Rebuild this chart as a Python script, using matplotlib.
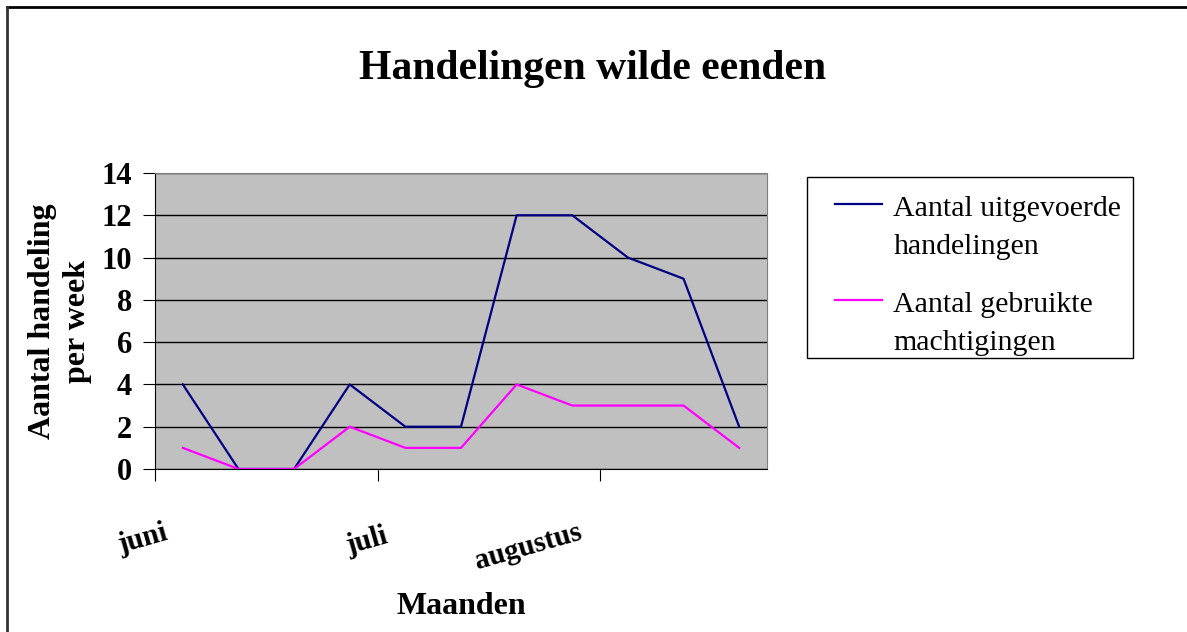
import numpy as np
import matplotlib
matplotlib.use("Agg")
import matplotlib.pyplot as plt
from matplotlib.lines import Line2D
from matplotlib.patches import Rectangle

plt.rcParams['font.family'] = ['Liberation Serif', 'DejaVu Serif']

# weekly counts, juni .. augustus
weeks = np.arange(11)
uitgevoerd = [4, 0, 0, 4, 2, 2, 12, 12, 10, 9, 2]
machtigingen = [1, 0, 0, 2, 1, 1, 4, 3, 3, 3, 1]
month_labels = ['juni', 'juli', 'augustus']
month_starts = [-0.5, 3.5, 7.5]
y_ticks = [0, 2, 4, 6, 8, 10, 12, 14]

# where Excel put the rotated month labels (category units / axes fraction)
label_x = [-0.72, 3.31, 6.21]
label_y = [-0.236, -0.243, -0.264]

W, H = 1187, 632
fig = plt.figure(figsize=(W / 100, H / 100), dpi=100)
ax = fig.add_axes([155 / W, 1 - 469 / H, 612 / W, 296 / H])

ax.set_facecolor('#c0c0c0')
ax.plot(weeks, uitgevoerd, color='#000080', lw=1.6, label='Aantal uitgevoerde\nhandelingen')
ax.plot(weeks, machtigingen, color='#ff00ff', lw=1.6, label='Aantal gebruikte\nmachtigingen')

ax.set_xlim(-0.5, 10.5)
ax.set_ylim(0, 14)
ax.set_yticks(y_ticks)
ax.yaxis.grid(True, color='black', lw=1)
ax.set_axisbelow(True)
for lbl in ax.get_yticklabels():
    lbl.set_fontweight('bold')
ax.tick_params(axis='y', labelsize=22, length=8.5, direction='out', pad=8)

ax.set_xticks(month_starts)
ax.set_xticklabels([])
ax.tick_params(axis='x', length=8.5, direction='out')
for x, y, name in zip(label_x, label_y, month_labels):
    ax.text(x, y, name, transform=ax.get_xaxis_transform(), rotation=16,
            rotation_mode='anchor', ha='center', va='center',
            fontsize=21, fontweight='bold')

for side in ['top', 'right']:
    ax.spines[side].set_color('#808080')
ax.spines['left'].set_color('black')
ax.spines['bottom'].set_color('black')

fig.text(461 / W, 1 - 606 / H, 'Maanden', ha='center', va='center',
         fontsize=23, fontweight='bold')
fig.text(60 / W, 1 - 321 / H, 'Aantal handeling\nper week', ha='center', va='center',
         rotation=90, fontsize=23, fontweight='bold', linespacing=1.3)
fig.text(593 / W, 1 - 69 / H, 'Handelingen wilde eenden', ha='center', va='center',
         fontsize=30, fontweight='bold')

leg = fig.legend(loc='upper left', bbox_to_anchor=(807 / W, 1 - 177 / H),
                 fontsize=21.5, frameon=False,
                 handlelength=1.87, labelspacing=1.05, borderpad=0.65,
                 handletextpad=0.37, borderaxespad=0)
for t in leg.get_texts():
    t.set_linespacing(1.6)
# Excel keeps the legend line level with the first text line
for h in leg.get_lines():
    xd = np.asarray(h.get_xdata(), dtype=float)
    yd = np.asarray(h.get_ydata(), dtype=float)
    h.set_data(np.linspace(xd.min() + 6.5, xd.max(), len(xd)), yd + 17)
fig.add_artist(Rectangle((807 / W, 1 - 358 / H), 326 / W, 181 / H,
                         transform=fig.transFigure, fill=False,
                         edgecolor='black', lw=1))

# chart border (top and left only)
fig.add_artist(Line2D([7 / W, 1], [1 - 7 / H, 1 - 7 / H], color='black', lw=2))
fig.add_artist(Line2D([7 / W, 7 / W], [0, 1 - 7 / H], color='#333333', lw=2))

fig.savefig('out.png', dpi=100)
